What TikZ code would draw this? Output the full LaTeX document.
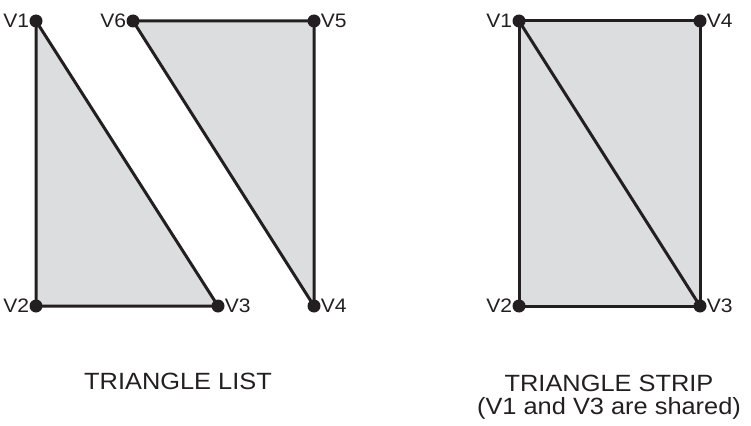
\documentclass[tikz,border=0pt]{standalone}
\usepackage{fontspec}
\setmainfont{Liberation Sans}[FakeStretch=1.08]

\definecolor{facegray}{HTML}{DCDDDE}
\definecolor{inkblack}{HTML}{231F20}

\begin{document}
\begin{tikzpicture}[x=1pt,y=-1pt,
    edge/.style={line width=3pt, draw=inkblack, line join=round},
    face/.style={fill=facegray},
    vtx/.style={circle, fill=inkblack, inner sep=0pt, minimum size=13pt},
    lbl/.style={font=\fontsize{19.5}{21}\selectfont, text=inkblack, inner sep=0pt},
    title/.style={font=\fontsize{23.5}{22.5}\selectfont, text=inkblack, align=center, anchor=base}]

        \useasboundingbox (0,0) rectangle (751,425);

        % === TRIANGLE LIST: VERTICES ===
        \coordinate (la1) at (36,21);
        \coordinate (la2) at (36,306);
        \coordinate (la3) at (218,306);
        \coordinate (lb4) at (314,306);
        \coordinate (lb5) at (314,21);
        \coordinate (lb6) at (133,21);

        % === TRIANGLE LIST: FACES ===
        \fill[face] (la1) -- (la2) -- (la3) -- cycle;
        \fill[face] (lb6) -- (lb5) -- (lb4) -- cycle;
        \draw[edge] (la1) -- (la2) -- (la3) -- cycle;
        \draw[edge] (lb6) -- (lb5) -- (lb4) -- cycle;

        % === TRIANGLE STRIP: VERTICES ===
        \coordinate (s1) at (519,21);
        \coordinate (s2) at (519,306);
        \coordinate (s3) at (700,306);
        \coordinate (s4) at (700,21);

        % === TRIANGLE STRIP: FACES ===
        \fill[face] (s1) -- (s2) -- (s3) -- (s4) -- cycle;
        \draw[edge] (s1) -- (s2) -- (s3) -- (s4) -- cycle;
        \draw[edge] (s1) -- (s3);

        % === DOTS AND LABELS ===
        \foreach \v/\t/\side/\anc in {la1/V1/left/west, la2/V2/left/west, la3/V3/right/east,
                                      lb4/V4/right/east, lb5/V5/right/east, lb6/V6/left/west,
                                      s1/V1/left/west, s2/V2/left/west, s3/V3/right/east, s4/V4/right/east} {
            \node[vtx] (\v dot) at (\v) {};
            \node[lbl, \side] (\v lab) at (\v dot.\anc) {\t};
        }

        % === TITLES ===
        \node[title] (listtitle) at (178,389) {TRIANGLE LIST};
        \node[title] (striptitle) at (609,414) {TRIANGLE STRIP\\(V1 and V3 are shared)};

    \end{tikzpicture}
\end{document}
